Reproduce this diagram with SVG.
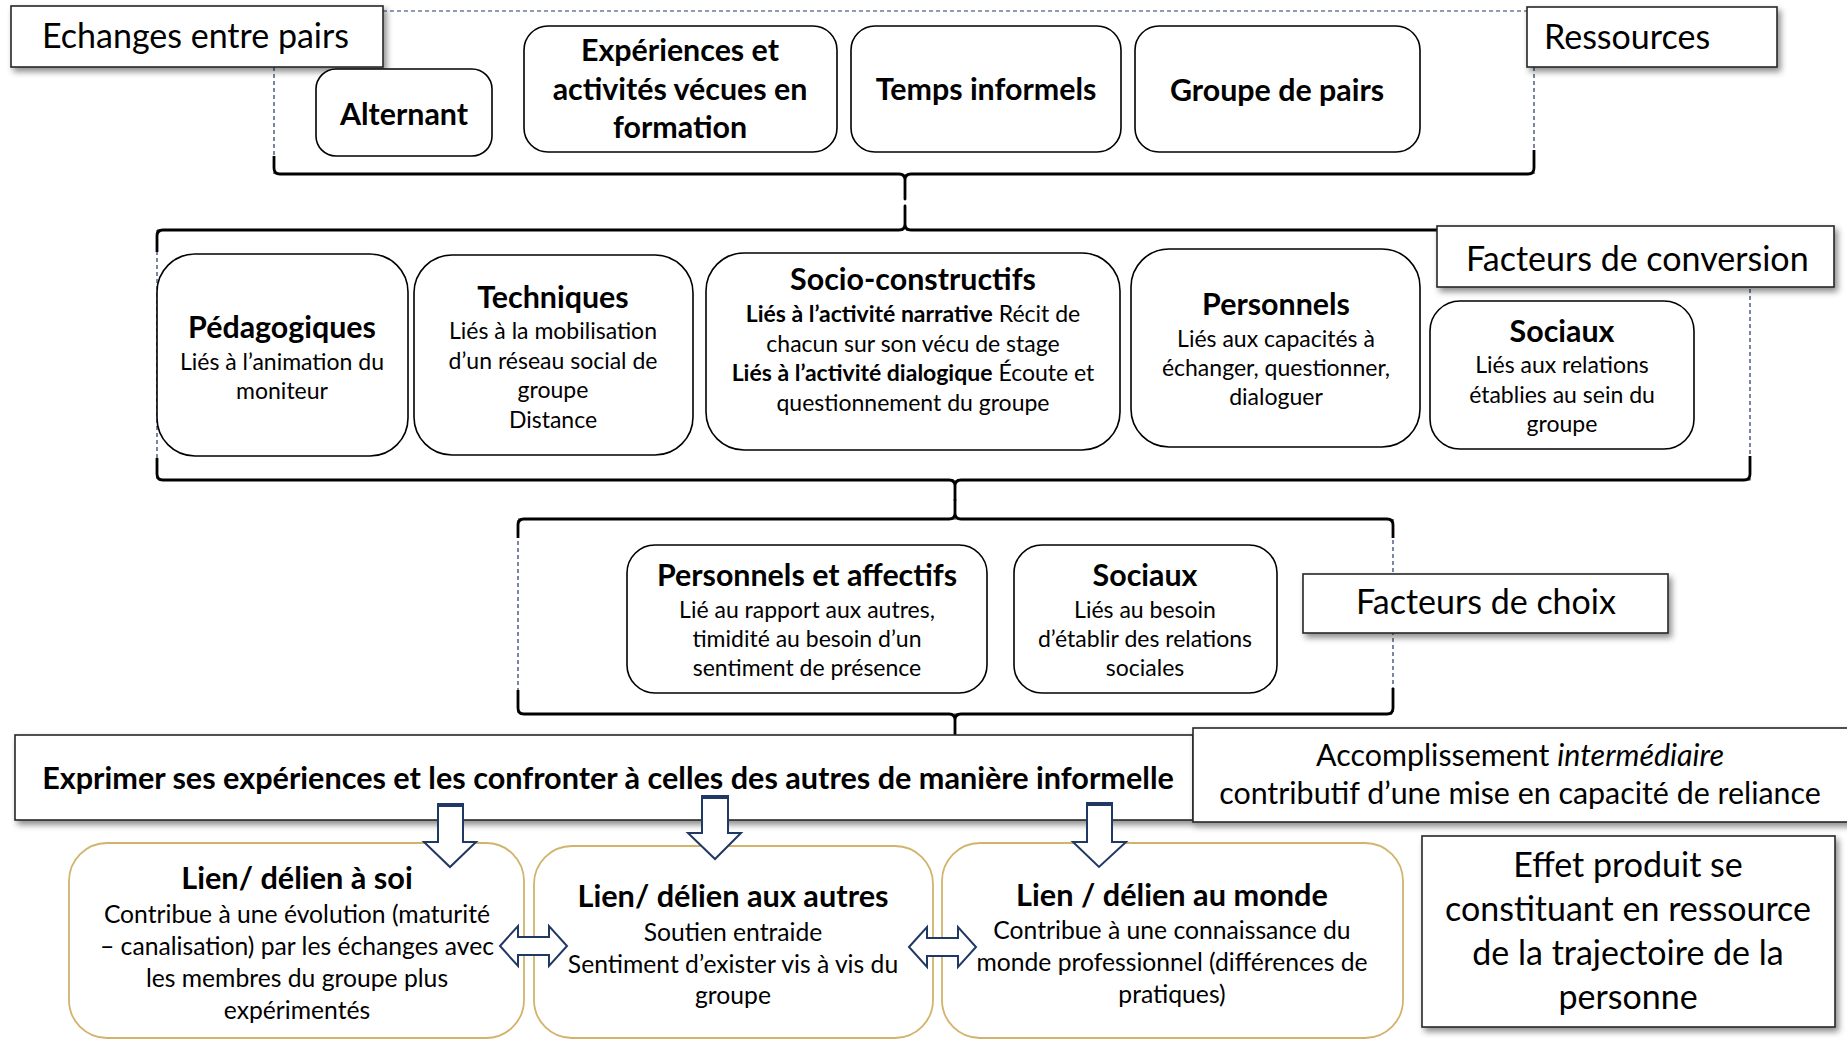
<svg xmlns="http://www.w3.org/2000/svg" width="1847" height="1040" viewBox="0 0 1847 1040">
<defs>
<style>
text{font-family:Lato,"Open Sans","Liberation Sans",sans-serif;fill:#000;text-anchor:middle}
.lab{font-size:34px}
.labl{font-size:34px;text-anchor:start}
.t{font-size:30.4px;font-weight:700}
.ct{font-size:30.7px;font-weight:700}
.b{font-size:23px}
.cb{font-size:24.7px}
.bb{font-weight:700}
.node{fill:#fff;stroke:#000;stroke-width:1.6}
.card{fill:#fff;stroke:#D2B36B;stroke-width:1.8}
.box{fill:#fff;stroke:#262626;stroke-width:1.6}
.dash{fill:none;stroke:#203864;stroke-width:1.2;stroke-dasharray:4 3}
.brace{fill:none;stroke:#000;stroke-width:2.8;stroke-linejoin:round}
.arr{fill:#fff;stroke:#203864;stroke-width:2;stroke-linejoin:miter}
.band{fill:#203864}
</style>
<filter id="sh" x="-5%" y="-10%" width="112%" height="140%">
<feDropShadow dx="3" dy="4" stdDeviation="3" flood-color="#000" flood-opacity="0.45"/>
</filter>
</defs>
<rect width="1847" height="1040" fill="#fff"/>

<g id="connectors">
<path class="dash" d="M383,11 L1527,11 M274,67 L274,174 M1534,67 L1534,174"/>
<path class="dash" d="M157,230 L1437,230 M157,230 L157,480 L1750,480 L1750,287"/>
<path class="dash" d="M518,519 L1393,519 L1393,714 L518,714 Z"/>
<path class="brace" d="M274,156 L274,168 Q274,174 280,174 L899,174 Q905,174 905,180 L905,199 L905,180 Q905,174 911,174 L1528,174 Q1534,174 1534,168 L1534,150"/>
<path class="brace" d="M157,252 L157,236 Q157,230 163,230 L899,230 Q905,230 905,224 L905,206 L905,224 Q905,230 911,230 L1744,230 Q1750,230 1750,236 L1750,252"/>
<path class="brace" d="M157,458 L157,474 Q157,480 163,480 L949,480 Q955,480 955,486 L955,500 L955,486 Q955,480 961,480 L1744,480 Q1750,480 1750,474 L1750,456"/>
<path class="brace" d="M518,538 L518,525 Q518,519 524,519 L949,519 Q955,519 955,513 L955,500 L955,513 Q955,519 961,519 L1387,519 Q1393,519 1393,525 L1393,538"/>
<path class="brace" d="M518,690 L518,708 Q518,714 524,714 L949,714 Q955,714 955,720 L955,735 L955,720 Q955,714 961,714 L1387,714 Q1393,714 1393,708 L1393,688"/>
</g>

<g id="lbl-echanges">
<rect class="box" x="11" y="6" width="372" height="61" filter="url(#sh)"/>
<text class="labl" x="42" y="48">Echanges entre pairs</text>
</g>
<g id="lbl-ressources">
<rect class="box" x="1527" y="7" width="250" height="60" filter="url(#sh)"/>
<text class="labl" x="1544" y="49">Ressources</text>
</g>

<g id="n-alternant">
<rect class="node" x="316" y="69" width="176" height="87" rx="20"/>
<text class="t" x="404" y="125">Alternant</text>
</g>
<g id="n-experiences">
<rect class="node" x="524" y="26" width="313" height="126" rx="24"/>
<text class="t" x="680" y="61">Expériences et<tspan x="680" dy="39">activités vécues en</tspan><tspan x="680" dy="38">formation</tspan></text>
</g>
<g id="n-temps">
<rect class="node" x="851" y="26" width="270" height="126" rx="24"/>
<text class="t" x="986" y="100">Temps informels</text>
</g>
<g id="n-groupe">
<rect class="node" x="1135" y="26" width="285" height="126" rx="24"/>
<text class="t" x="1277" y="101">Groupe de pairs</text>
</g>

<g id="lbl-conversion">
<rect class="box" x="1437" y="226" width="397" height="61" filter="url(#sh)"/>
<text class="labl" x="1466" y="271">Facteurs de conversion</text>
</g>

<g id="n-pedagogiques">
<rect class="node" x="157" y="254" width="251" height="202" rx="38"/>
<text class="t" x="282" y="338">Pédagogiques</text>
<text class="b" x="282" y="370">Liés à l’animation du<tspan x="282" dy="29">moniteur</tspan></text>
</g>
<g id="n-techniques">
<rect class="node" x="414" y="255" width="279" height="200" rx="38"/>
<text class="t" x="553" y="308">Techniques</text>
<text class="b" x="553" y="339">Liés à la mobilisation<tspan x="553" dy="29.5">d’un réseau social de</tspan><tspan x="553" dy="29.5">groupe</tspan><tspan x="553" dy="29.5">Distance</tspan></text>
</g>
<g id="n-socio">
<rect class="node" x="706" y="253" width="414" height="197" rx="38"/>
<text class="t" x="913" y="290">Socio-constructifs</text>
<text class="b" x="913" y="322"><tspan class="bb">Liés à l’activité narrative</tspan> Récit de<tspan x="913" dy="29.5">chacun sur son vécu de stage</tspan><tspan x="913" dy="29.5" class="bb">Liés à l’activité dialogique</tspan> Écoute et<tspan x="913" dy="29.5">questionnement du groupe</tspan></text>
</g>
<g id="n-personnels">
<rect class="node" x="1131" y="249" width="289" height="198" rx="38"/>
<text class="t" x="1276" y="315">Personnels</text>
<text class="b" x="1276" y="347">Liés aux capacités à<tspan x="1276" dy="29">échanger, questionner,</tspan><tspan x="1276" dy="29">dialoguer</tspan></text>
</g>
<g id="n-sociaux-conv">
<rect class="node" x="1430" y="301" width="264" height="148" rx="30"/>
<text class="t" x="1562" y="342">Sociaux</text>
<text class="b" x="1562" y="373">Liés aux relations<tspan x="1562" dy="29.5">établies au sein du</tspan><tspan x="1562" dy="29.5">groupe</tspan></text>
</g>

<g id="lbl-choix">
<rect class="box" x="1303" y="574" width="365" height="59" filter="url(#sh)"/>
<text class="lab" x="1486" y="614">Facteurs de choix</text>
</g>

<g id="n-perso-affectifs">
<rect class="node" x="627" y="545" width="360" height="148" rx="28"/>
<text class="t" x="807" y="586">Personnels et affectifs</text>
<text class="b" x="807" y="618">Lié au rapport aux autres,<tspan x="807" dy="29">timidité au besoin d’un</tspan><tspan x="807" dy="29">sentiment de présence</tspan></text>
</g>
<g id="n-sociaux-choix">
<rect class="node" x="1014" y="545" width="263" height="148" rx="28"/>
<text class="t" x="1145" y="586">Sociaux</text>
<text class="b" x="1145" y="618">Liés au besoin<tspan x="1145" dy="29">d’établir des relations</tspan><tspan x="1145" dy="29">sociales</tspan></text>
</g>

<g id="n-exprimer">
<rect class="box" x="15" y="735" width="1178" height="85" filter="url(#sh)"/>
<text x="608" y="789" style="font-size:30.6px;font-weight:700">Exprimer ses expériences et les confronter à celles des autres de manière informelle</text>
</g>
<g id="lbl-accomplissement">
<rect class="box" x="1193" y="728" width="670" height="94" filter="url(#sh)"/>
<text x="1520" y="766" style="font-size:30.4px">Accomplissement <tspan font-style="italic">intermédiaire</tspan><tspan x="1520" dy="38">contributif d’une mise en capacité de reliance</tspan></text>
</g>

<g id="n-lien-soi">
<rect class="card" x="69" y="843" width="455" height="195" rx="38"/>
<text class="ct" x="297" y="889">Lien/ délien à soi</text>
<text class="cb" x="297" y="923">Contribue à une évolution (maturité<tspan x="297" dy="32">– canalisation) par les échanges avec</tspan><tspan x="297" dy="32">les membres du groupe plus</tspan><tspan x="297" dy="32">expérimentés</tspan></text>
</g>
<g id="n-lien-autres">
<rect class="card" x="534" y="846" width="399" height="192" rx="38"/>
<text class="ct" x="733" y="907">Lien/ délien aux autres</text>
<text class="cb" x="733" y="941">Soutien entraide<tspan x="733" dy="31.5">Sentiment d’exister vis à vis du</tspan><tspan x="733" dy="31.5">groupe</tspan></text>
</g>
<g id="n-lien-monde">
<rect class="card" x="942" y="843" width="461" height="195" rx="38"/>
<text class="ct" x="1172" y="906">Lien / délien au monde</text>
<text class="cb" x="1172" y="939">Contribue à une connaissance du<tspan x="1172" dy="32">monde professionnel (différences de</tspan><tspan x="1172" dy="32">pratiques)</tspan></text>
</g>

<g id="lbl-effet">
<rect class="box" x="1422" y="836" width="413" height="191" filter="url(#sh)"/>
<text x="1628" y="877" style="font-size:34px">Effet produit se<tspan x="1628" dy="44">constituant en ressource</tspan><tspan x="1628" dy="44">de la trajectoire de la</tspan><tspan x="1628" dy="44">personne</tspan></text>
</g>

<g id="arrows">
<path class="arr" d="M438,804 L463,804 L463,842 L476,842 L450,867 L424,842 L438,842 Z"/>
<rect class="band" x="438" y="803" width="25" height="4"/>
<path class="arr" d="M702,796 L728,796 L728,833 L741,833 L715,859 L688,833 L702,833 Z"/>
<rect class="band" x="702" y="795" width="26" height="4"/>
<path class="arr" d="M1087,803 L1112,803 L1112,842 L1126,842 L1099,867 L1073,842 L1087,842 Z"/>
<rect class="band" x="1087" y="802" width="25" height="4"/>
<path class="arr" d="M500,946 L518,926 L518,937 L549,937 L549,926 L567,946 L549,966 L549,955 L518,955 L518,966 Z"/>
<path class="arr" d="M909,947 L927,927 L927,938 L958,938 L958,927 L976,947 L958,967 L958,956 L927,956 L927,967 Z"/>
</g>
</svg>
